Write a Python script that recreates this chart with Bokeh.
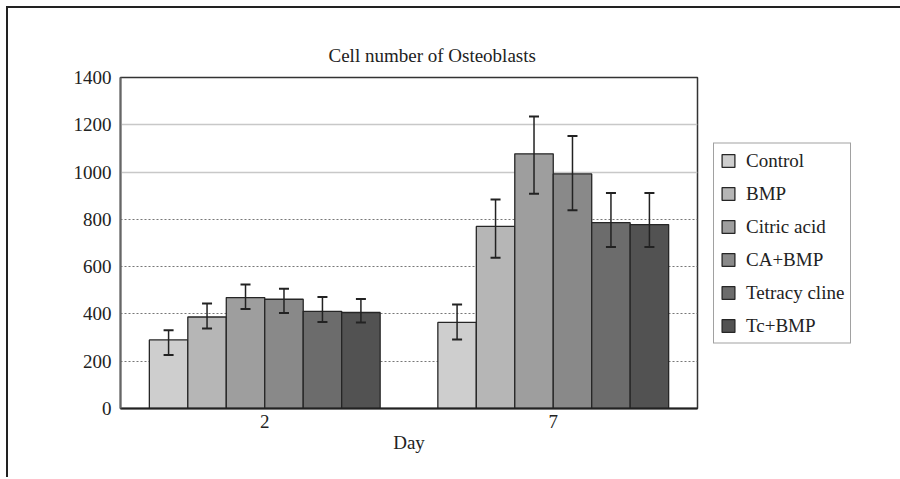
from bokeh.plotting import figure
from bokeh.models import (ColumnDataSource, FactorRange, Range1d, Whisker, TeeHead,
                          Legend, LegendItem, Grid, FixedTicker)
from bokeh.transform import dodge
from bokeh.embed import file_html
from bokeh.resources import INLINE

days = ["2", "7"]
series = ["Control", "BMP", "Citric acid", "CA+BMP", "Tetracy cline", "Tc+BMP"]

# mean cell numbers per series (day 2, day 7)
control = [290, 364]
bmp = [387, 770]
citric = [469, 1077]
ca_bmp = [462, 992]
tetra = [411, 786]
tc_bmp = [406, 778]

# error bar ends (upper, lower) per series (day 2, day 7)
control_hi = [331, 440]
control_lo = [226, 292]
bmp_hi = [444, 884]
bmp_lo = [338, 638]
citric_hi = [524, 1235]
citric_lo = [421, 908]
ca_bmp_hi = [507, 1153]
ca_bmp_lo = [404, 838]
tetra_hi = [472, 911]
tetra_lo = [366, 683]
tc_bmp_hi = [463, 911]
tc_bmp_lo = [364, 683]

y_ticks = [0, 200, 400, 600, 800, 1000, 1200, 1400]

means = [control, bmp, citric, ca_bmp, tetra, tc_bmp]
highs = [control_hi, bmp_hi, citric_hi, ca_bmp_hi, tetra_hi, tc_bmp_hi]
lows = [control_lo, bmp_lo, citric_lo, ca_bmp_lo, tetra_lo, tc_bmp_lo]
colors = ["#cecece", "#b6b6b6", "#9e9e9e", "#898989", "#6c6c6c", "#525252"]

FONT = "Liberation Serif"
FS = "19px"

p = figure(x_range=FactorRange(*days), y_range=Range1d(0, 1400),
           frame_width=577, frame_height=331, output_backend="svg", toolbar_location=None,
           min_border_left=112, min_border_top=69, min_border_right=201, min_border_bottom=69,
           title="Cell number of Osteoblasts",
           styles={"border-left": "2px solid #222", "border-top": "2px solid #222",
                   "border-right": "0px none", "border-bottom": "0px none",
                   "margin-left": "6px", "margin-top": "6px"})

p.title.align = "left"
p.title.offset = 208
p.title.text_font = FONT
p.title.text_font_size = FS
p.title.text_font_style = "normal"
p.title.text_color = "#222"
p.title.standoff = 24

p.xgrid.grid_line_color = None
p.ygrid.grid_line_color = None
p.add_layout(Grid(dimension=1, ticker=FixedTicker(ticks=[200, 400, 600, 800]),
                  grid_line_color="#777777", grid_line_dash="2 2", grid_line_width=1))
p.add_layout(Grid(dimension=1, ticker=FixedTicker(ticks=[1000, 1200]),
                  grid_line_color="#c8c8c8", grid_line_width=1.5))

n = len(series)
w = 0.8 / n
items = []
for i, name in enumerate(series):
    src = ColumnDataSource(dict(day=days, val=means[i], hi=highs[i], lo=lows[i]))
    off = (i - (n - 1) / 2) * w
    r = p.vbar(x=dodge("day", off, range=p.x_range), top="val", width=w, bottom=0,
               source=src, fill_color=colors[i], line_color="#262626", line_width=1.3)
    wh = Whisker(base=dodge("day", off, range=p.x_range), upper="hi", lower="lo", source=src,
                 line_color="#222222", line_width=1.5, level="overlay",
                 upper_head=TeeHead(size=10, line_color="#222222", line_width=2),
                 lower_head=TeeHead(size=10, line_color="#222222", line_width=2))
    p.add_layout(wh)
    items.append(LegendItem(label=name, renderers=[r]))

legend = Legend(items=items, location="left", margin=16, padding=6, spacing=11,
                glyph_width=16, glyph_height=16, label_standoff=10,
                label_text_font=FONT, label_text_font_size=FS, label_text_color="#222",
                border_line_color="#444444", border_line_width=1.5,
                background_fill_alpha=1)
p.add_layout(legend, "right")

p.yaxis.ticker = FixedTicker(ticks=y_ticks)
p.yaxis.major_tick_out = 0
p.yaxis.major_tick_in = 0
p.yaxis.minor_tick_line_color = None
p.yaxis.axis_line_color = "#666666"
p.yaxis.axis_line_width = 2
p.yaxis.major_label_standoff = 9
p.yaxis.major_label_text_font = FONT
p.yaxis.major_label_text_font_size = FS
p.yaxis.major_label_text_color = "#222"

p.xaxis.major_tick_line_color = None
p.xaxis.major_tick_out = 0
p.xaxis.axis_line_color = "#222222"
p.xaxis.axis_line_width = 2
p.xaxis.major_label_standoff = 6
p.xaxis.major_label_text_font = FONT
p.xaxis.major_label_text_font_size = FS
p.xaxis.major_label_text_color = "#222"
p.xaxis.axis_label = "Day"
p.xaxis.axis_label_standoff = 1
p.xaxis.axis_label_text_font = FONT
p.xaxis.axis_label_text_font_size = FS
p.xaxis.axis_label_text_font_style = "normal"
p.xaxis.axis_label_text_color = "#222"

p.outline_line_color = "#333333"
p.outline_line_width = 1.5

open("out.html", "w").write(file_html(p, INLINE))
